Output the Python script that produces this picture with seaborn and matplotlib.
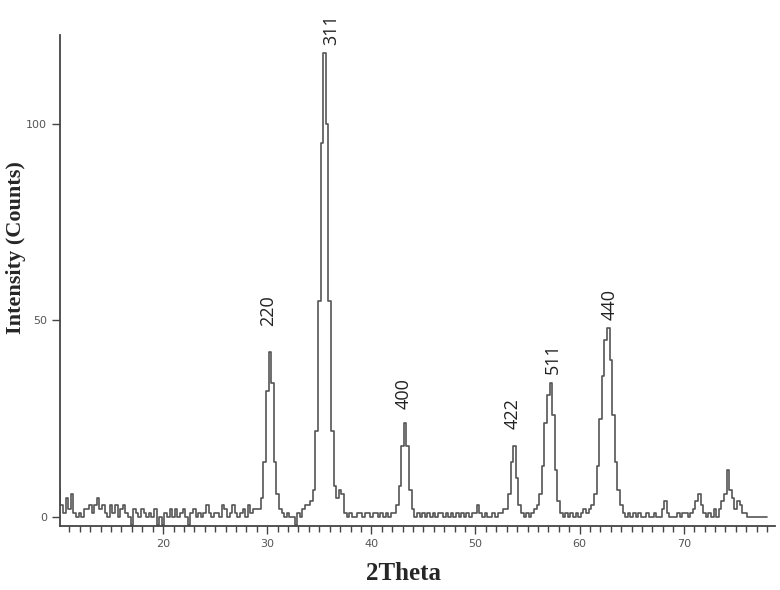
"""
XRD pattern (2Theta vs intensity) with hkl peak labels
"""

import numpy as np
import pandas as pd
import matplotlib
matplotlib.use("Agg")
import matplotlib.pyplot as plt
from matplotlib.ticker import MultipleLocator
import seaborn as sns

sns.set_style("ticks")

# 2Theta scan grid, 0.25 deg step from 10 to 78
two_theta = np.arange(10.0, 78.01, 0.25)

intensity = [
    # 10.00 - 19.75
    7, 3, 1, 5, 2, 6, 1, 0, 1, 0, 2, 2, 3, 1, 3, 5, 2, 3, 1, 0,
    3, 1, 3, 0, 2, 3, 1, 0, -2, 2, 1, 0, 2, 1, 0, 1, 0, 2, -2, 0,
    # 20.00 - 29.75
    -2, 1, 0, 2, 0, 2, 0, 1, 2, 0, -2, 1, 2, 0, 1, 0, 1, 3, 1, 0,
    1, 1, 0, 3, 2, 0, 1, 3, 1, 0, 1, 2, 0, 3, 1, 2, 2, 2, 5, 14,
    # 30.00 - 39.75
    32, 42, 34, 14, 6, 2, 1, 0, 1, 0, 0, -2, 1, 0, 2, 3, 3, 4, 7, 22,
    55, 95, 118, 100, 55, 22, 8, 5, 7, 6, 1, 0, 1, 0, 0, 1, 1, 0, 1, 1,
    # 40.00 - 49.75
    0, 1, 1, 0, 1, 0, 1, 0, 1, 1, 3, 8, 18, 24, 18, 7, 2, 0, 1, 0,
    1, 0, 1, 0, 1, 0, 1, 1, 0, 1, 0, 1, 0, 1, 0, 1, 0, 1, 0, 1,
    # 50.00 - 59.75
    1, 3, 1, 0, 1, 0, 0, 1, 0, 1, 1, 2, 2, 6, 14, 18, 10, 3, 1, 0,
    1, 0, 1, 2, 3, 6, 13, 24, 31, 34, 26, 12, 4, 1, 0, 1, 0, 1, 0, 1,
    # 60.00 - 69.75
    0, 1, 2, 1, 2, 3, 6, 13, 25, 36, 45, 48, 40, 26, 14, 7, 3, 1, 0, 1,
    0, 1, 0, 1, 0, 0, 1, 0, 0, 1, 0, 0, 2, 4, 1, 0, 0, 0, 1, 0,
    # 70.00 - 78.00
    1, 1, 0, 1, 2, 4, 6, 3, 1, 0, 1, 0, 2, 0, 2, 4, 6, 12, 7, 5,
    2, 4, 3, 1, 1, 0, 0, 0, 0, 0, 0, 0, 0,
]

# hkl labels and where they sit (2Theta, intensity at label base)
peak_labels = ["220", "311", "400", "422", "511", "440"]
label_theta = [30.1, 36.1, 43.1, 53.6, 57.4, 62.9]
label_base = [48.5, 120.0, 27.5, 22.5, 36.5, 50.0]

df = pd.DataFrame({"two_theta": two_theta, "intensity": intensity})

fig = plt.figure(figsize=(7.8, 5.9), dpi=100)
ax = fig.add_axes([0.077, 0.108, 0.917, 0.833])

sns.lineplot(data=df, x="two_theta", y="intensity", ax=ax,
             drawstyle="steps-mid", color="#555555", linewidth=1.2)

for lab, xt, yb in zip(peak_labels, label_theta, label_base):
    ax.text(xt, yb, lab, rotation=90, ha="center", va="bottom",
            fontsize=13, family="Open Sans", color="#222222")

ax.set_xlim(10.1, 78.8)
ax.set_ylim(-2.3, 122.6)
ax.set_xticks([20, 30, 40, 50, 60, 70])
ax.xaxis.set_minor_locator(MultipleLocator(1))
ax.set_yticks([0, 50, 100])

ax.tick_params(axis="both", which="major", labelsize=8, labelcolor="#555555",
               color="#444444", length=6, width=1)
ax.tick_params(axis="x", which="minor", color="#444444", length=4, width=1)

sns.despine(ax=ax)
for side in ["left", "bottom"]:
    ax.spines[side].set_color("#444444")
    ax.spines[side].set_linewidth(1.3)

ax.set_xlabel("2Theta", fontsize=18, fontweight="bold", family="Liberation Serif")
ax.set_ylabel("Intensity (Counts)", fontsize=16, fontweight="bold",
              family="Liberation Serif")
ax.xaxis.set_label_coords(0.48, -0.073)
ax.yaxis.set_label_coords(-0.047, 0.568)

fig.savefig("out.png", dpi=100)
plt.close(fig)
